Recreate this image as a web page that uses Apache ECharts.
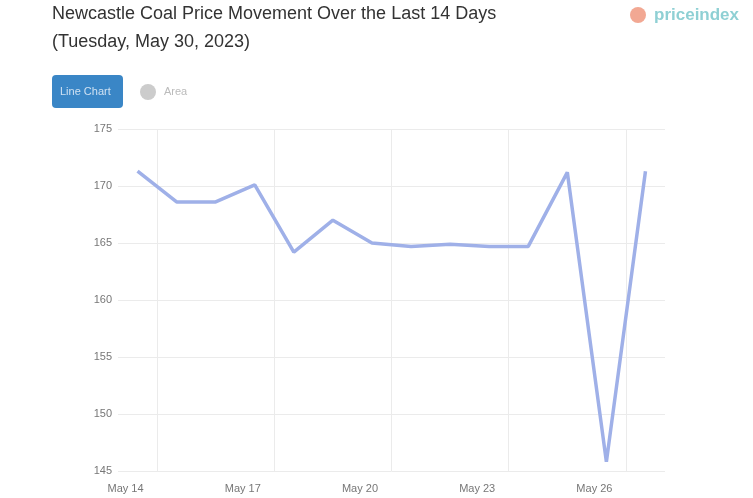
<!DOCTYPE html>
<html>
<head>
<meta charset="utf-8">
<script src="https://cdn.jsdelivr.net/npm/echarts@6/dist/echarts.min.js"></script>
<style>
html,body{margin:0;padding:0;background:#fff;}
#chart{width:753px;height:498px;}
</style>
</head>
<body>
<div id="chart"></div>
<script>
var titleLines = ['Newcastle Coal Price Movement Over the Last 14 Days', '(Tuesday, May 30, 2023)'];
var dates = ['May 14','May 15','May 16','May 17','May 18','May 19','May 20','May 21','May 22','May 23','May 24','May 25','May 26','May 27'];
var prices = [171.3, 168.6, 168.6, 170.1, 164.2, 167.0, 165.0, 164.7, 164.9, 164.7, 164.7, 171.2, 145.8, 171.3];
var yTicks = [145, 150, 155, 160, 165, 170, 175];
var buttonLabels = ['Line Chart', 'Area'];

var chart = echarts.init(document.getElementById('chart'));
chart.setOption({
  animation: false,
  backgroundColor: '#ffffff',
  title: {
    text: titleLines.join('\n'),
    left: 52, top: 0, padding: 0,
    textStyle: {fontFamily: 'Liberation Sans, Arial, sans-serif', fontSize: 18, fontWeight: 'normal', color: '#333333', lineHeight: 28}
  },
  graphic: [
    {type: 'rect', left: 52, top: 75, shape: {width: 71, height: 33, r: 4}, style: {fill: '#3a86c6'}},
    {type: 'text', left: 60, top: 86, style: {text: buttonLabels[0], fill: '#cfe1f2', font: '11px Liberation Sans, Arial, sans-serif'}},
    {type: 'circle', shape: {cx: 148, cy: 92, r: 8}, style: {fill: '#cccccc'}},
    {type: 'text', left: 164, top: 86, style: {text: buttonLabels[1], fill: '#bbbbbb', font: '11px Liberation Sans, Arial, sans-serif'}},
    {type: 'circle', shape: {cx: 638, cy: 15, r: 8}, style: {fill: '#f2a893'}},
    {type: 'text', left: 654, top: 7, style: {text: 'priceindex', fill: '#8fd0d4', font: 'bold 17px Liberation Sans, Arial, sans-serif'}}
  ],
  grid: {left: 118, right: 88, top: 129, bottom: 27, containLabel: false},
  xAxis: {
    type: 'category',
    data: dates,
    boundaryGap: true,
    axisLine: {show: false},
    axisTick: {show: false},
    axisLabel: {
      interval: function (i) { return i % 3 === 0; },
      color: '#777777', fontSize: 11, fontFamily: 'Liberation Sans, Arial, sans-serif',
      margin: 12, padding: [0, 24, 0, 0]
    },
    splitLine: {show: true, showMaxLine: false, interval: function (i) { return i % 3 === 1; }, lineStyle: {color: '#ebebeb', width: 1}}
  },
  yAxis: {
    type: 'value',
    min: yTicks[0], max: yTicks[yTicks.length - 1], interval: 5,
    axisLine: {show: false},
    axisTick: {show: false},
    axisLabel: {color: '#777777', fontSize: 11, fontFamily: 'Liberation Sans, Arial, sans-serif', margin: 6},
    splitLine: {lineStyle: {color: '#ebebeb', width: 1}}
  },
  series: [{
    type: 'line',
    data: prices,
    symbol: 'none',
    lineStyle: {color: '#9fb0e8', width: 3.5},
    itemStyle: {color: '#9fb0e8'}
  }]
});
</script>
</body>
</html>
